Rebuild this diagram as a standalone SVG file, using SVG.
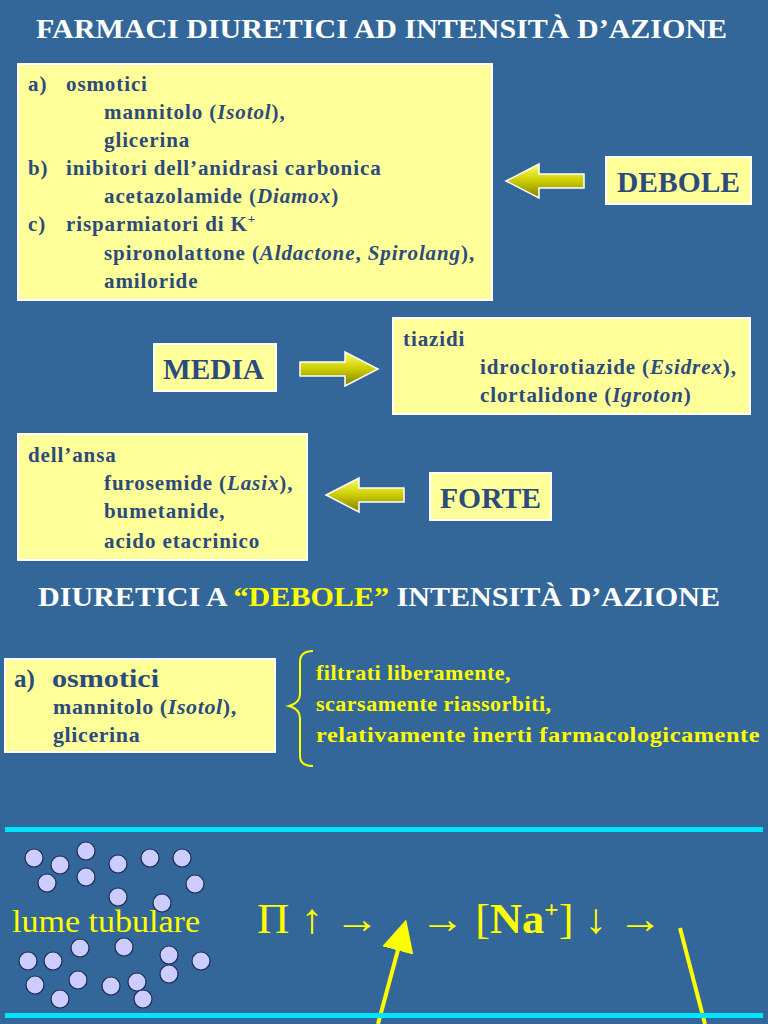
<svg xmlns="http://www.w3.org/2000/svg" width="768" height="1024" viewBox="0 0 768 1024">
<style>
.t{font-family:"Liberation Serif",serif;font-weight:bold}
.w{fill:#fff}
.b{fill:#2c4a7c}
.y{fill:#ffff00}
.s{font-size:21px;letter-spacing:0.9px}
.box{fill:#ffff99;stroke:#fff;stroke-width:2}
</style>
<defs>
<linearGradient id="g" x1="0" y1="0" x2="0" y2="1"><stop offset="0" stop-color="#ffff66"/><stop offset="0.5" stop-color="#cccc00"/><stop offset="1" stop-color="#808000"/></linearGradient>
<marker id="ah" markerWidth="8" markerHeight="8" refX="4" refY="4" orient="auto"><path d="M0,0L8,4L0,8z" fill="#ffff00"/></marker>
</defs>
<rect width="768" height="1024" fill="#336699"/>
<text class="t w" x="36" y="38" font-size="28" textLength="691" lengthAdjust="spacingAndGlyphs">FARMACI DIURETICI AD INTENSITÀ D’AZIONE</text>
<g id="box1"><rect class="box" x="18" y="64" width="474" height="236"/>
<text class="t b s"><tspan x="28" y="91">a)</tspan><tspan x="66" y="91">osmotici</tspan><tspan x="104" y="119">mannitolo (<tspan font-style="italic">Isotol</tspan>),</tspan><tspan x="104" y="147">glicerina</tspan><tspan x="28" y="175">b)</tspan><tspan x="66" y="175">inibitori dell’anidrasi carbonica</tspan><tspan x="104" y="203">acetazolamide (<tspan font-style="italic">Diamox</tspan>)</tspan><tspan x="28" y="231">c)</tspan><tspan x="66" y="231">risparmiatori di K<tspan font-size="13" dy="-8">+</tspan></tspan><tspan x="104" y="260" dy="0">spironolattone (<tspan font-style="italic">Aldactone</tspan>, <tspan font-style="italic">Spirolang</tspan>),</tspan><tspan x="104" y="288">amiloride</tspan></text></g>
<g id="debole"><rect class="box" x="606" y="157" width="145" height="47"/><text class="t b" x="617" y="192" font-size="29" textLength="123" lengthAdjust="spacingAndGlyphs">DEBOLE</text></g>
<g id="media"><rect class="box" x="154" y="344" width="122" height="47"/><text class="t b" x="163" y="379" font-size="29" textLength="101" lengthAdjust="spacingAndGlyphs">MEDIA</text></g>
<g id="box2"><rect class="box" x="393" y="318" width="357" height="96"/>
<text class="t b s"><tspan x="403" y="346">tiazidi</tspan><tspan x="480" y="374">idroclorotiazide (<tspan font-style="italic">Esidrex</tspan>),</tspan><tspan x="480" y="402">clortalidone (<tspan font-style="italic">Igroton</tspan>)</tspan></text></g>
<g id="box3"><rect class="box" x="18" y="434" width="289" height="126"/>
<text class="t b s"><tspan x="28" y="462">dell’ansa</tspan><tspan x="104" y="490">furosemide (<tspan font-style="italic">Lasix</tspan>),</tspan><tspan x="104" y="518">bumetanide,</tspan><tspan x="104" y="548">acido etacrinico</tspan></text></g>
<g id="forte"><rect class="box" x="430" y="473" width="121" height="47"/><text class="t b" x="440" y="508" font-size="29" textLength="101" lengthAdjust="spacingAndGlyphs">FORTE</text></g>
<g id="connectors">
<path d="M584,174H539V164L506,181L539,198V188H584z" fill="url(#g)" stroke="#fff" stroke-width="1.5"/>
<path d="M300,362H345V352L378,369L345,386V376H300z" fill="url(#g)" stroke="#fff" stroke-width="1.5"/>
<path d="M404,488H359V478L326,495L359,512V502H404z" fill="url(#g)" stroke="#fff" stroke-width="1.5"/>
<line x1="378" y1="1024" x2="402" y2="935" stroke="#ffff00" stroke-width="4" marker-end="url(#ah)"/>
<line x1="680" y1="928" x2="705" y2="1024" stroke="#ffff00" stroke-width="4"/>
</g>
<text class="t w" x="38" y="606" font-size="28" textLength="682" lengthAdjust="spacingAndGlyphs">DIURETICI A <tspan class="y">“DEBOLE”</tspan> INTENSITÀ D’AZIONE</text>
<g id="box4"><rect class="box" x="5" y="659" width="270" height="93"/>
<text class="t b" font-size="25"><tspan x="14" y="687">a)</tspan><tspan x="52" y="687" textLength="107" lengthAdjust="spacingAndGlyphs">osmotici</tspan></text>
<text class="t b" font-size="22" letter-spacing="0.6"><tspan x="53" y="714">mannitolo (<tspan font-style="italic">Isotol</tspan>),</tspan><tspan x="53" y="742">glicerina</tspan></text></g>
<path d="M313,651Q300,651 300,662V694Q300,703 289,706Q300,709 300,718V756Q300,766 313,766" fill="none" stroke="#ffff00" stroke-width="2"/>
<text class="t y" font-size="22" letter-spacing="0.5"><tspan x="316" y="680">filtrati liberamente,</tspan><tspan x="316" y="711">scarsamente riassorbiti,</tspan><tspan x="316" y="742" textLength="444" lengthAdjust="spacingAndGlyphs">relativamente inerti farmacologicamente</tspan></text>
<rect x="5" y="827" width="758" height="5" fill="#00e5ff"/>
<rect x="5" y="1013" width="758" height="5" fill="#00e5ff"/>
<g fill="#ccccff" stroke="#1a2a55" stroke-width="1.2">
<circle cx="34" cy="858" r="9"/><circle cx="60" cy="865" r="9"/><circle cx="86" cy="851" r="9"/><circle cx="118" cy="864" r="9"/><circle cx="150" cy="858" r="9"/><circle cx="182" cy="858" r="9"/><circle cx="47" cy="883" r="9"/><circle cx="86" cy="877" r="9"/><circle cx="195" cy="884" r="9"/><circle cx="118" cy="897" r="9"/><circle cx="162" cy="903" r="9"/>
<circle cx="28" cy="961" r="9"/><circle cx="53" cy="961" r="9"/><circle cx="80" cy="948" r="9"/><circle cx="124" cy="947" r="9"/><circle cx="169" cy="955" r="9"/><circle cx="201" cy="961" r="9"/><circle cx="35" cy="985" r="9"/><circle cx="78" cy="980" r="9"/><circle cx="111" cy="986" r="9"/><circle cx="137" cy="982" r="9"/><circle cx="169" cy="974" r="9"/><circle cx="60" cy="999" r="9"/><circle cx="143" cy="999" r="9"/>
</g>
<text x="12" y="932" font-family="Liberation Serif,serif" font-size="32" fill="#ffff00" textLength="188" lengthAdjust="spacingAndGlyphs">lume tubulare</text>
<text x="257" y="933" font-family="Liberation Serif,serif" font-size="42" fill="#ffff00" textLength="122" lengthAdjust="spacingAndGlyphs">Π ↑ →</text>
<text x="420" y="933" font-family="Liberation Serif,serif" font-size="42" fill="#ffff00" textLength="242" lengthAdjust="spacingAndGlyphs">→ [<tspan font-weight="bold">Na<tspan font-size="24" dy="-16">+</tspan></tspan><tspan dy="16">] ↓ →</tspan></text>
</svg>
